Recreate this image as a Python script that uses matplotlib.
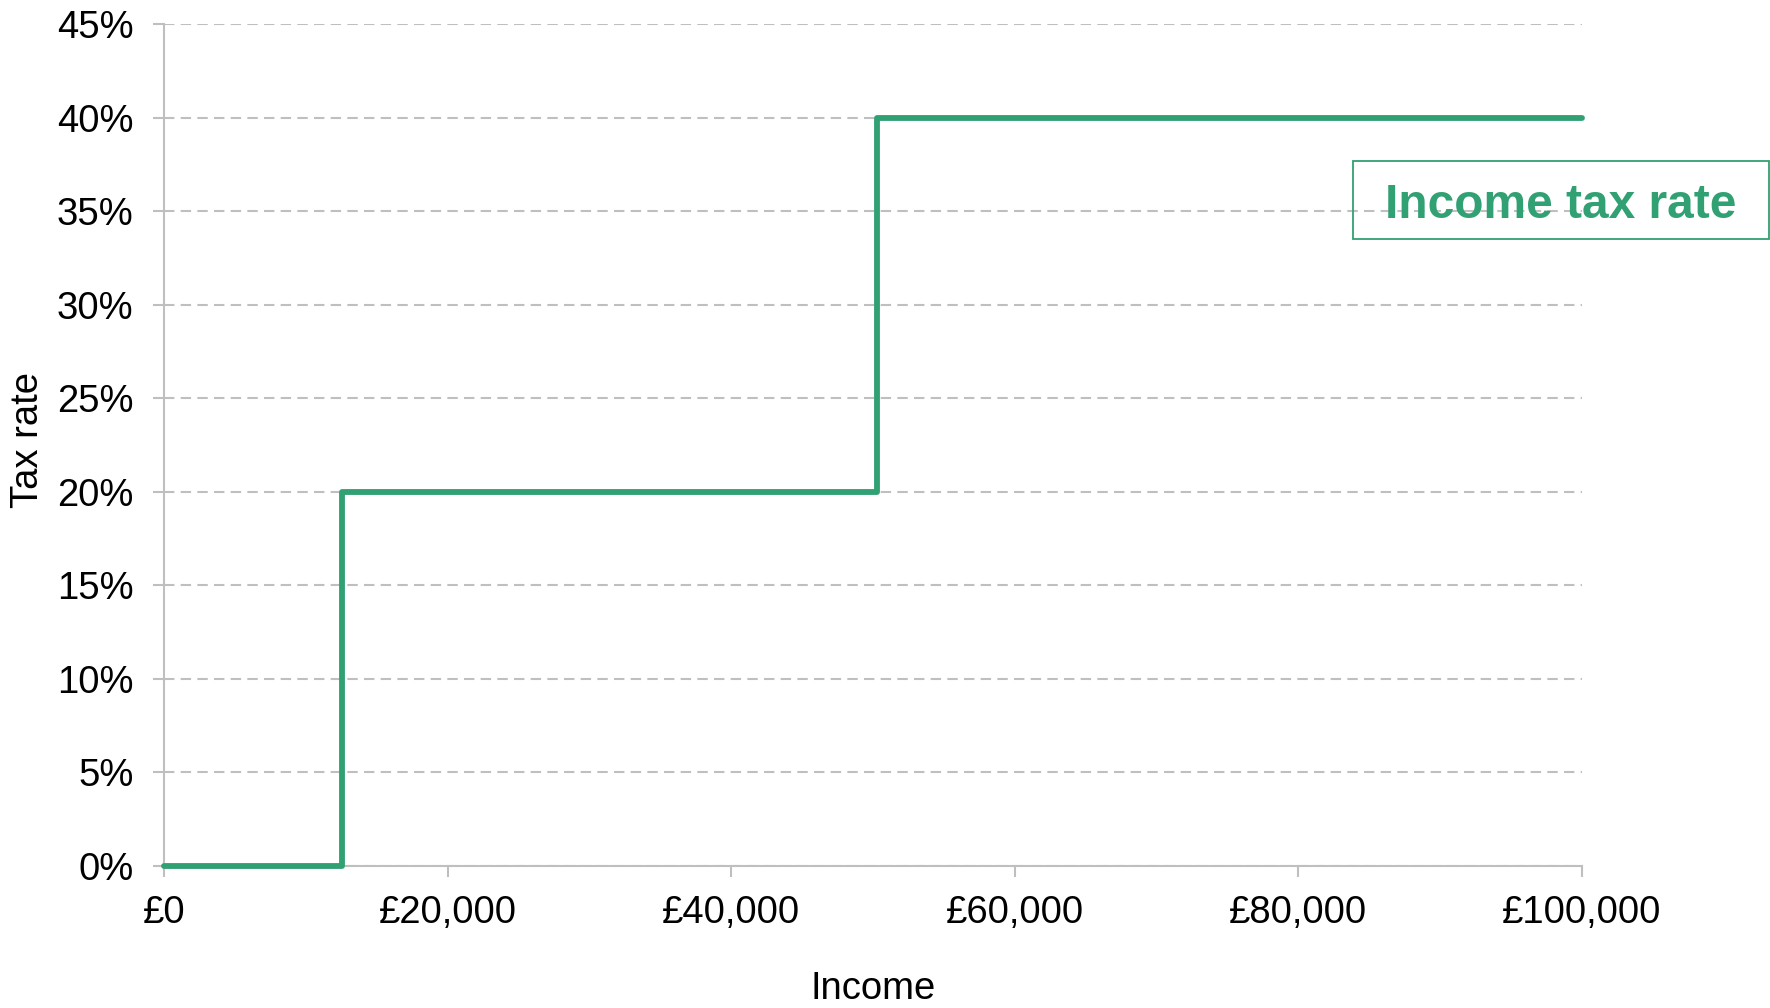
import matplotlib
matplotlib.use('Agg')
import matplotlib.pyplot as plt
from matplotlib.patches import Rectangle
from matplotlib.ticker import FuncFormatter

# Income tax schedule (thresholds in £, marginal rate in %)
incomes = [0, 12570, 50270, 100000]
rates = [0, 20, 40, 40]

xticks = [0, 20000, 40000, 60000, 80000, 100000]
yticks = [0, 5, 10, 15, 20, 25, 30, 35, 40, 45]

green = '#31A073'
grey = '#BFBFBF'

plt.rcParams['font.family'] = ['Liberation Sans', 'DejaVu Sans']

fig = plt.figure(figsize=(17.7, 10.08), dpi=100)
ax = fig.add_axes([0.0927, 0.1409, 0.8011, 0.8353])

ax.step(incomes, rates, where='post', color=green, lw=4.2,
        solid_capstyle='round', solid_joinstyle='round', zorder=3,
        clip_on=False)

ax.set_xlim(0, 100000)
ax.set_ylim(0, 45)
ax.set_xticks(xticks)
ax.set_yticks(yticks)
ax.xaxis.set_major_formatter(FuncFormatter(lambda v, p: '£{:,.0f}'.format(v)))
ax.yaxis.set_major_formatter(FuncFormatter(lambda v, p: '{:.0f}%'.format(v)))

ax.grid(axis='y', color=grey, lw=1.5, ls=(0, (5, 3)), zorder=0)
ax.set_axisbelow(True)

for s in ['top', 'right']:
    ax.spines[s].set_visible(False)
for s in ['left', 'bottom']:
    ax.spines[s].set_color(grey)
    ax.spines[s].set_linewidth(1.5)

ax.tick_params(axis='both', direction='out', length=8, width=1.5,
               color=grey, labelsize=27.5, labelcolor='black')
ax.tick_params(axis='x', pad=13)
ax.tick_params(axis='y', pad=14)

ax.set_xlabel('Income', fontsize=27.5)
ax.set_ylabel('Tax rate', fontsize=27.5)
ax.xaxis.set_label_coords(0.5, -0.1585)
ax.xaxis.label.set_va('baseline')
ax.yaxis.set_label_coords(-0.096, 0.506)
ax.yaxis.label.set_va('center')

# series label box
fig.patches.append(Rectangle((0.7644, 0.7629), 0.2350, 0.0774,
                             transform=fig.transFigure, fill=False,
                             ec=green, lw=1.3))
fig.text(0.882, 0.7837, 'Income tax rate', color=green, fontsize=34.5,
         fontweight='bold', ha='center', va='baseline')

fig.savefig('out.png', dpi=100)
